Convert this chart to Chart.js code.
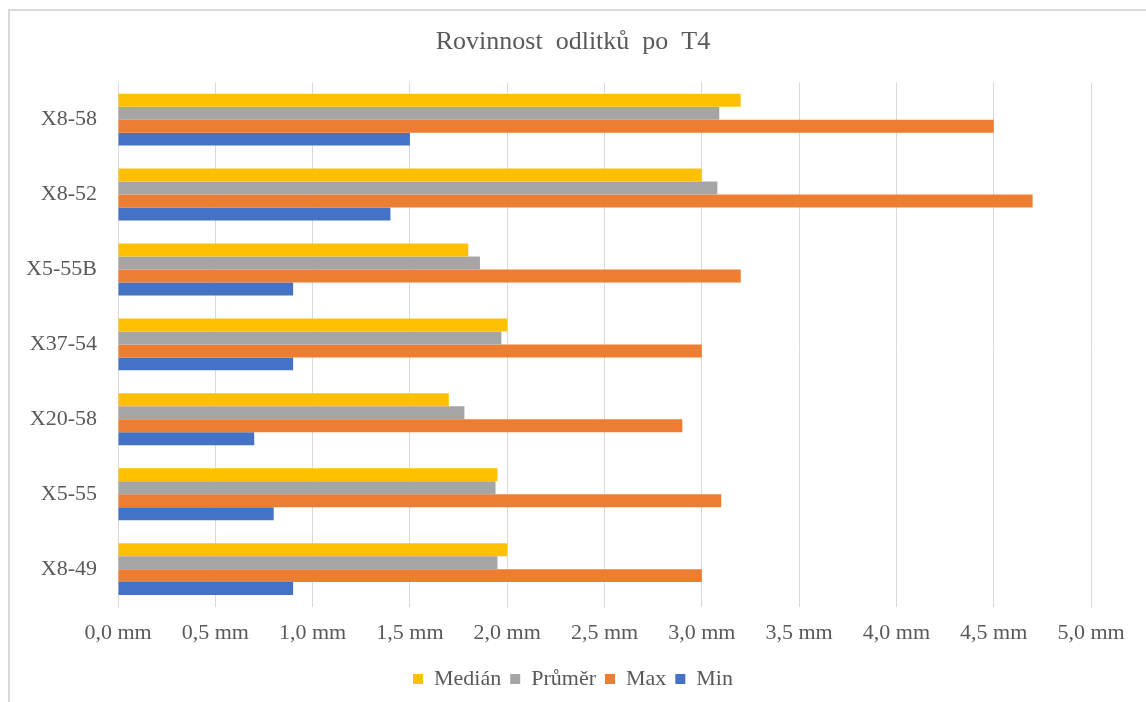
<!DOCTYPE html>
<html>
<head>
<meta charset="utf-8">
<script src="https://cdn.jsdelivr.net/npm/chart.js@4"></script>
<style>
  body { margin: 0; background: #fff; }
  #wrap { width: 1146px; height: 702px; position: relative; }
</style>
</head>
<body>
<div id="wrap"><canvas id="chart"></canvas></div>
<script>
// categories, top to bottom
const castings = ['X8-58', 'X8-52', 'X5-55B', 'X37-54', 'X20-58', 'X5-55', 'X8-49'];

const median = [3.2, 3.0, 1.8, 2.0, 1.7, 1.95, 2.0];
const prumer = [3.09, 3.08, 1.86, 1.97, 1.78, 1.94, 1.95];
const maxVals = [4.5, 4.7, 3.2, 3.0, 2.9, 3.1, 3.0];
const minVals = [1.5, 1.4, 0.9, 0.9, 0.7, 0.8, 0.9];

const xTickLabels = ['0,0 mm', '0,5 mm', '1,0 mm', '1,5 mm', '2,0 mm', '2,5 mm',
                     '3,0 mm', '3,5 mm', '4,0 mm', '4,5 mm', '5,0 mm'];

const textColor = '#595959';
const serif = "'Liberation Serif', 'Times New Roman', serif";

// white background + the light frame Excel draws round the chart
const framePlugin = {
    id: 'frame',
    beforeDraw(chart) {
        const ctx = chart.ctx;
        ctx.save();
        ctx.fillStyle = '#fff';
        ctx.fillRect(0, 0, chart.width, chart.height);
        ctx.fillStyle = '#d9d9d9';
        ctx.fillRect(8, 9, 2, chart.height);
        ctx.fillRect(8, 9, chart.width, 2);
        ctx.restore();
    }
};

const ctx = document.getElementById('chart').getContext('2d');
new Chart(ctx, {
    type: 'bar',
    data: {
        labels: castings,
        datasets: [
            { label: 'Medián', data: median, backgroundColor: '#FFC000' },
            { label: 'Průměr', data: prumer, backgroundColor: '#A5A5A5' },
            { label: 'Max', data: maxVals, backgroundColor: '#ED7D31' },
            { label: 'Min', data: minVals, backgroundColor: '#4472C4' }
        ]
    },
    options: {
        indexAxis: 'y',
        responsive: true,
        maintainAspectRatio: false,
        animation: false,
        datasets: {
            bar: { categoryPercentage: 0.693, barPercentage: 1.0 }
        },
        layout: {
            padding: { left: 0, right: 0, top: 0, bottom: 2 }
        },
        scales: {
            x: {
                min: 0,
                max: 5,
                ticks: {
                    stepSize: 0.5,
                    color: textColor,
                    font: { family: serif, size: 22 },
                    padding: 13,
                    maxRotation: 0,
                    callback: (value, i) => xTickLabels[i]
                },
                grid: { color: '#d9d9d9', drawTicks: false },
                border: { display: false }
            },
            y: {
                ticks: {
                    color: textColor,
                    font: { family: serif, size: 22 },
                    padding: 21
                },
                grid: { display: false, drawTicks: false },
                border: { display: false },
                afterFit: (scale) => { scale.width = 118; }
            },
            // empty right margin, keeps title and legend centred on the whole frame
            yRight: {
                type: 'category',
                position: 'right',
                ticks: { display: false },
                grid: { display: false, drawTicks: false },
                border: { display: false },
                afterFit: (scale) => { scale.width = 55; }
            }
        },
        plugins: {
            title: {
                display: true,
                text: 'Rovinnost  odlitků  po  T4',
                color: textColor,
                font: { family: serif, size: 26, weight: 'normal' },
                padding: { top: 27, bottom: 24 }
            },
            legend: {
                position: 'bottom',
                labels: {
                    color: textColor,
                    font: { family: serif, size: 22 },
                    boxWidth: 10,
                    boxHeight: 10,
                    padding: 9
                }
            },
            tooltip: { enabled: false }
        }
    },
    plugins: [framePlugin]
});
</script>
</body>
</html>
